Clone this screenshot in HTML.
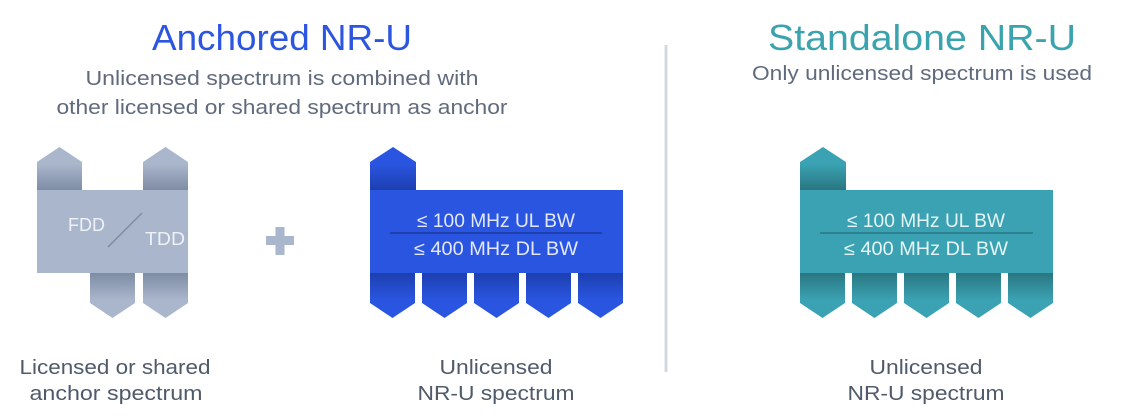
<!DOCTYPE html>
<html><head><meta charset="utf-8"><style>
html,body{margin:0;padding:0;background:#fff;width:1132px;height:420px;overflow:hidden}
svg{display:block}
text{font-family:"Liberation Sans",sans-serif}
</style></head><body>
<svg width="1132" height="420" viewBox="0 0 1132 420" xmlns="http://www.w3.org/2000/svg">
<defs>
<linearGradient id="gTopG" x1="0" y1="0" x2="0" y2="1"><stop offset="0" stop-color="#a9b6cb"/><stop offset="0.4" stop-color="#a9b6cb"/><stop offset="1" stop-color="#7e8ca5"/></linearGradient>
<linearGradient id="gBotG" x1="0" y1="0" x2="0" y2="1"><stop offset="0" stop-color="#7e8ca5"/><stop offset="0.6" stop-color="#a9b6cb"/><stop offset="1" stop-color="#a9b6cb"/></linearGradient>
<linearGradient id="gTopB" x1="0" y1="0" x2="0" y2="1"><stop offset="0" stop-color="#2a55e0"/><stop offset="0.4" stop-color="#2a55e0"/><stop offset="1" stop-color="#1c3fb0"/></linearGradient>
<linearGradient id="gBotB" x1="0" y1="0" x2="0" y2="1"><stop offset="0" stop-color="#1c3fb0"/><stop offset="0.6" stop-color="#2a55e0"/><stop offset="1" stop-color="#2a55e0"/></linearGradient>
<linearGradient id="gTopT" x1="0" y1="0" x2="0" y2="1"><stop offset="0" stop-color="#3aa2b2"/><stop offset="0.4" stop-color="#3aa2b2"/><stop offset="1" stop-color="#2a7682"/></linearGradient>
<linearGradient id="gBotT" x1="0" y1="0" x2="0" y2="1"><stop offset="0" stop-color="#2a7682"/><stop offset="0.6" stop-color="#3aa2b2"/><stop offset="1" stop-color="#3aa2b2"/></linearGradient>
</defs>

<text x="282" y="50" text-anchor="middle" font-size="36" fill="#2c55e0" textLength="260" lengthAdjust="spacingAndGlyphs">Anchored NR-U</text>
<text x="282" y="85" text-anchor="middle" font-size="20" fill="#5f6b7c" textLength="393" lengthAdjust="spacingAndGlyphs">Unlicensed spectrum is combined with</text>
<text x="282" y="114" text-anchor="middle" font-size="20" fill="#5f6b7c" textLength="451" lengthAdjust="spacingAndGlyphs">other licensed or shared spectrum as anchor</text>

<text x="922" y="50" text-anchor="middle" font-size="36" fill="#3aa3ad" textLength="308" lengthAdjust="spacingAndGlyphs">Standalone NR-U</text>
<text x="922" y="80" text-anchor="middle" font-size="20" fill="#5f6b7c" textLength="340" lengthAdjust="spacingAndGlyphs">Only unlicensed spectrum is used</text>

<line x1="666" y1="45" x2="666" y2="372" stroke="#d3d8e0" stroke-width="3"/>

<polygon points="37,190 37,162 59.5,147 82,162 82,190" fill="url(#gTopG)"/>
<polygon points="143,190 143,162 165.5,147 188,162 188,190" fill="url(#gTopG)"/>
<polygon points="90,273 90,303 112.5,318 135,303 135,273" fill="url(#gBotG)"/>
<polygon points="143,273 143,303 165.5,318 188,303 188,273" fill="url(#gBotG)"/>
<rect x="37" y="190" width="151" height="83" fill="#a9b6cb"/>
<text x="68" y="231" font-size="18" fill="#eef1f6" textLength="37" lengthAdjust="spacingAndGlyphs">FDD</text>
<text x="145" y="245" font-size="18" fill="#eef1f6" textLength="40" lengthAdjust="spacingAndGlyphs">TDD</text>
<line x1="108" y1="247" x2="142" y2="213" stroke="#7e8ca5" stroke-width="1.5"/>

<rect x="266" y="236" width="28" height="9" fill="#a9b6cb"/>
<rect x="275.5" y="227" width="9" height="28" fill="#a9b6cb"/>

<polygon points="370,190 370,162 393,147 416,162 416,190" fill="url(#gTopB)"/>
<polygon points="370,273 370,303 392.5,318 415,303 415,273" fill="url(#gBotB)"/>
<polygon points="422,273 422,303 444.5,318 467,303 467,273" fill="url(#gBotB)"/>
<polygon points="474,273 474,303 496.5,318 519,303 519,273" fill="url(#gBotB)"/>
<polygon points="526,273 526,303 548.5,318 571,303 571,273" fill="url(#gBotB)"/>
<polygon points="578,273 578,303 600.5,318 623,303 623,273" fill="url(#gBotB)"/>
<rect x="370" y="190" width="253" height="83" fill="#2a55e0"/>
<text x="496" y="227" text-anchor="middle" font-size="19" fill="#e3e9fb" textLength="158" lengthAdjust="spacingAndGlyphs">≤ 100 MHz UL BW</text>
<line x1="390" y1="233" x2="602" y2="233" stroke="#1b3b9c" stroke-width="1.5"/>
<text x="496" y="255" text-anchor="middle" font-size="19" fill="#e3e9fb" textLength="164" lengthAdjust="spacingAndGlyphs">≤ 400 MHz DL BW</text>

<polygon points="800,190 800,162 823,147 846,162 846,190" fill="url(#gTopT)"/>
<polygon points="800,273 800,303 822.5,318 845,303 845,273" fill="url(#gBotT)"/>
<polygon points="852,273 852,303 874.5,318 897,303 897,273" fill="url(#gBotT)"/>
<polygon points="904,273 904,303 926.5,318 949,303 949,273" fill="url(#gBotT)"/>
<polygon points="956,273 956,303 978.5,318 1001,303 1001,273" fill="url(#gBotT)"/>
<polygon points="1008,273 1008,303 1030.5,318 1053,303 1053,273" fill="url(#gBotT)"/>
<rect x="800" y="190" width="253" height="83" fill="#3aa2b2"/>
<text x="926" y="227" text-anchor="middle" font-size="19" fill="#e6f4f6" textLength="158" lengthAdjust="spacingAndGlyphs">≤ 100 MHz UL BW</text>
<line x1="820" y1="233" x2="1033" y2="233" stroke="#2a7682" stroke-width="1.5"/>
<text x="926" y="255" text-anchor="middle" font-size="19" fill="#e6f4f6" textLength="164" lengthAdjust="spacingAndGlyphs">≤ 400 MHz DL BW</text>

<text x="115" y="374" text-anchor="middle" font-size="20" fill="#4f5a6b" textLength="191" lengthAdjust="spacingAndGlyphs">Licensed or shared</text>
<text x="116" y="400" text-anchor="middle" font-size="20" fill="#4f5a6b" textLength="173" lengthAdjust="spacingAndGlyphs">anchor spectrum</text>
<text x="496" y="374" text-anchor="middle" font-size="20" fill="#4f5a6b" textLength="113" lengthAdjust="spacingAndGlyphs">Unlicensed</text>
<text x="496" y="400" text-anchor="middle" font-size="20" fill="#4f5a6b" textLength="157" lengthAdjust="spacingAndGlyphs">NR-U spectrum</text>
<text x="926" y="374" text-anchor="middle" font-size="20" fill="#4f5a6b" textLength="113" lengthAdjust="spacingAndGlyphs">Unlicensed</text>
<text x="926" y="400" text-anchor="middle" font-size="20" fill="#4f5a6b" textLength="157" lengthAdjust="spacingAndGlyphs">NR-U spectrum</text>
</svg>
</body></html>
